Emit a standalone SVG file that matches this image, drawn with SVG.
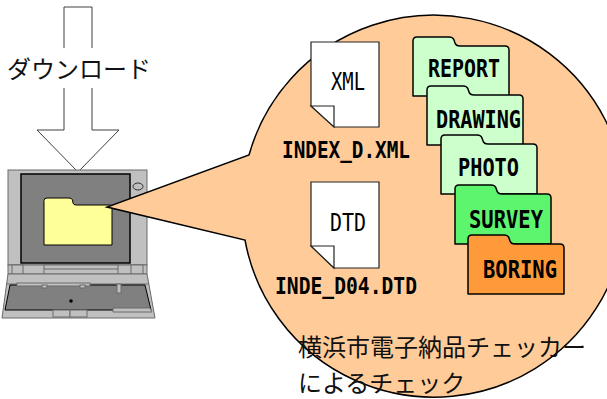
<svg xmlns="http://www.w3.org/2000/svg" width="607" height="399" viewBox="0 0 607 399">
  <style>
    .jp { font-family: "Noto Sans CJK JP", "Noto Sans", sans-serif; font-size: 24px; fill: #111; }
    .mono { font-family: "DejaVu Sans Mono", "Liberation Mono", monospace; fill: #000; }
    .lbl { font-size: 25px; font-weight: bold; }
    .fname { font-size: 22.5px; font-weight: bold; }
    .ext { font-size: 24px; }
    .doc { fill: #fff; stroke: #222; stroke-width: 1.2; }
    .folder { stroke: #000; stroke-width: 1.5; stroke-linejoin: round; }
    .lg { fill: #c0c0c0; stroke: #6a6a6a; stroke-width: 1; }
    .dg { fill: #808080; stroke: #000; stroke-width: 1; }
  </style>
  <defs>
    <!-- folder outline, origin at top-left of the body, tab above -->
    <path id="folderShape" d="M0,50 V-5 Q0,-9 4,-9 H36 Q40,-9 41,-6 L42,-3 Q43,0 47,0 H92 Q96,0 96,4 V50 Z"/>
  </defs>

  <!-- download arrow -->
  <g id="download">
    <polygon points="64,7 92,7 92,130 119,130 78,172 37,130 64,130" fill="#fff" stroke="#404040" stroke-width="1"/>
    <rect x="2" y="48" width="148" height="40" fill="#fff"/>
    <text class="jp" x="7" y="78" font-size="23">ダウンロード</text>
  </g>

  <!-- laptop -->
  <g id="laptop">
    <!-- lid -->
    <rect class="lg" x="8" y="170" width="139" height="95"/>
    <rect x="21" y="174" width="109" height="89" fill="#808080" stroke="#000" stroke-width="1.5"/>
    <ellipse cx="138" cy="186.5" rx="5" ry="3.5" fill="#c0c0c0" stroke="#333" stroke-width="1"/>
    <!-- hinge -->
    <rect class="lg" x="8" y="265" width="139" height="9"/>
    <rect class="lg" x="12" y="265" width="11" height="9"/>
    <rect class="lg" x="44" y="265" width="74" height="9"/>
    <line x1="44" y1="269" x2="118" y2="269" stroke="#6a6a6a"/>
    <rect class="lg" x="131" y="265" width="12" height="9"/>
    <!-- base -->
    <polygon class="lg" points="8,274 147,274 155,318 2,318"/>
    <line x1="6" y1="284" x2="149" y2="284" stroke="#6a6a6a"/>
    <polygon class="dg" points="10,285 145,285 151,310 5,310"/>
    <rect class="lg" x="17" y="283" width="73" height="3"/>
    <rect class="lg" x="42" y="285" width="5" height="3"/>
    <rect class="lg" x="80" y="285" width="5" height="3"/>
    <rect class="lg" x="117" y="284" width="4" height="9"/>
    <circle cx="71" cy="301" r="1.8" fill="#000"/>
    <polygon class="lg" points="113,308 150,308 152,312 113,312"/>
    <rect class="lg" x="53" y="310" width="17" height="7"/>
    <rect class="lg" x="70" y="310" width="17" height="7"/>
    <!-- folder icon on screen -->
    <path d="M44,245 V200.5 Q44,198 47,198 H69 Q72,198 72.5,200 L73,203 Q73.5,205 76,205 H110 Q112,205 112,207 V245 Z" fill="#ffff99" stroke="#000" stroke-width="1"/>
  </g>

  <!-- speech bubble -->
  <g id="bubble">
    <path d="M249,155 A192,191 0 1 1 245,240 L107,207 Z" fill="#ffcc99" stroke="#000" stroke-width="1.5" stroke-linejoin="miter"/>
  </g>

  <!-- index file -->
  <g id="xml-file">
    <path class="doc" d="M311,42 H379 V127 H334 L311,106 Z"/>
    <path class="doc" d="M311,106 H334 V127 Z"/>
    <text class="mono ext" x="331" y="90" textLength="34" lengthAdjust="spacingAndGlyphs">XML</text>
    <text class="mono fname" x="282" y="158" textLength="128" lengthAdjust="spacingAndGlyphs">INDEX_D.XML</text>
  </g>

  <!-- dtd file -->
  <g id="dtd-file">
    <path class="doc" d="M311,182 H379 V268 H334 L311,246 Z"/>
    <path class="doc" d="M311,246 H334 V268 Z"/>
    <text class="mono ext" x="330" y="231" textLength="36" lengthAdjust="spacingAndGlyphs">DTD</text>
    <text class="mono fname" x="275" y="294" textLength="142" lengthAdjust="spacingAndGlyphs">INDE_D04.DTD</text>
  </g>

  <!-- folders -->
  <g id="folder-report">
    <use href="#folderShape" class="folder" fill="#ccffcc" transform="translate(413,46)"/>
    <text class="mono lbl" x="428" y="77" textLength="72" lengthAdjust="spacingAndGlyphs">REPORT</text>
  </g>
  <g id="folder-drawing">
    <use href="#folderShape" class="folder" fill="#ccffcc" transform="translate(427,95)"/>
    <text class="mono lbl" x="436" y="128" textLength="85" lengthAdjust="spacingAndGlyphs">DRAWING</text>
  </g>
  <g id="folder-photo">
    <use href="#folderShape" class="folder" fill="#ccffcc" transform="translate(441,144)"/>
    <text class="mono lbl" x="458" y="176" textLength="61" lengthAdjust="spacingAndGlyphs">PHOTO</text>
  </g>
  <g id="folder-survey">
    <use href="#folderShape" class="folder" fill="#5ef56e" transform="translate(455,194)"/>
    <text class="mono lbl" x="469" y="228" textLength="74" lengthAdjust="spacingAndGlyphs">SURVEY</text>
  </g>
  <g id="folder-boring">
    <use href="#folderShape" class="folder" fill="#ff9a3a" transform="translate(468,244)"/>
    <text class="mono lbl" x="483" y="278" textLength="74" lengthAdjust="spacingAndGlyphs">BORING</text>
  </g>

  <!-- caption -->
  <g id="caption">
    <text class="jp" x="298" y="356">横浜市電子納品チェッカー</text>
    <text class="jp" x="298" y="392">によるチェック</text>
  </g>
</svg>
